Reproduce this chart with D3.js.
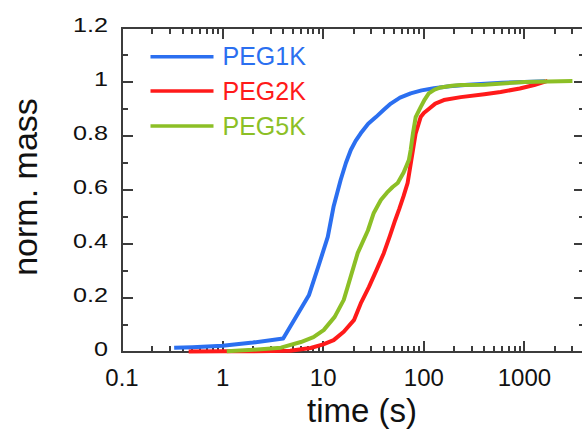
<!DOCTYPE html>
<html>
<head>
<meta charset="utf-8">
<script src="https://cdn.jsdelivr.net/npm/d3@7"></script>
<style>
  body { margin: 0; background: #fff; }
  svg text { font-family: "Liberation Sans", Arial, sans-serif; }
</style>
</head>
<body>
<div id="chart"></div>
<script>
const peg1kTime = [0.33, 0.5, 1, 2, 4, 7.2, 9, 11.1, 12.7, 14.9, 16.8, 18.8, 21, 23.6, 28, 33.4, 40, 47, 58, 74, 95, 126, 180, 275, 600, 1000, 1600];
const peg1kMass = [0.016, 0.018, 0.023, 0.035, 0.05, 0.21, 0.32, 0.426, 0.54, 0.637, 0.7, 0.748, 0.782, 0.81, 0.845, 0.87, 0.897, 0.92, 0.942, 0.958, 0.969, 0.977, 0.984, 0.99, 0.997, 1.0, 1.003];

const peg2kTime = [0.46, 1, 2, 4.7, 7.5, 10, 12.7, 16, 20.2, 23.6, 28.5, 34, 40, 46, 52, 57, 63, 69, 78, 83, 93, 100, 112, 130, 158, 233, 400, 580, 900, 1250, 1700];
const peg2kMass = [0.002, 0.003, 0.003, 0.005, 0.015, 0.028, 0.044, 0.075, 0.118, 0.18, 0.241, 0.305, 0.366, 0.43, 0.489, 0.53, 0.578, 0.626, 0.748, 0.81, 0.87, 0.885, 0.9, 0.92, 0.933, 0.944, 0.955, 0.963, 0.976, 0.989, 1.004];

const peg5kTime = [1.1, 2, 3.8, 6, 8, 10.1, 13, 16, 17.5, 22, 27.8, 31.8, 37.4, 43, 49, 55, 63, 71, 74, 78, 83, 93, 102, 112, 128, 147, 190, 233, 400, 1000, 3000];
const peg5kMass = [0.003, 0.008, 0.016, 0.037, 0.055, 0.081, 0.13, 0.193, 0.241, 0.366, 0.45, 0.515, 0.563, 0.59, 0.611, 0.626, 0.665, 0.711, 0.748, 0.81, 0.87, 0.907, 0.935, 0.958, 0.972, 0.98, 0.986, 0.989, 0.99, 1.0, 1.004];

const seriesNames = ["PEG1K", "PEG2K", "PEG5K"];
const seriesColors = ["#2b6ff0", "#ff1a1a", "#8cbf26"];

const xMajor = [0.1, 1, 10, 100, 1000];
const xLabels = ["0.1", "1", "10", "100", "1000"];
const yMajor = [0, 0.2, 0.4, 0.6, 0.8, 1, 1.2];
const yLabels = ["0", "0.2", "0.4", "0.6", "0.8", "1", "1.2"];
const yMinor = [0.1, 0.3, 0.5, 0.7, 0.9, 1.1];

const width = 582, height = 434;
const mLeft = 122, mRight = 585, mTop = 28, mBottom = 352;

const svg = d3.select("#chart").append("svg")
    .attr("width", width).attr("height", height);

const x = d3.scaleLog().domain([0.1, 4000]).range([mLeft, mRight]);
const y = d3.scaleLinear().domain([0, 1.2]).range([mBottom, mTop]);

// minor ticks 2..9 of each decade
let xMinor = [];
xMajor.forEach(d => {
    for (let k = 2; k <= 9; k++) {
        let v = d * k;
        if (v < 4000) xMinor.push(v);
    }
});

const axisColor = "#3c3c3c";

// inward ticks on all four sides
let xTickData = [];
xMajor.forEach(d => xTickData.push({v: d, len: 11}));
xMinor.forEach(d => xTickData.push({v: d, len: 6}));
let yTickData = [];
yMajor.forEach(d => yTickData.push({v: d, len: 11}));
yMinor.forEach(d => yTickData.push({v: d, len: 6}));

const tickG = svg.append("g")
    .attr("stroke", axisColor)
    .attr("stroke-width", 2);

[mBottom, mTop].forEach(edge => {
    let dir = edge === mBottom ? -1 : 1;
    tickG.append("g").selectAll("line")
        .data(xTickData)
        .join("line")
        .attr("x1", d => Math.round(x(d.v))).attr("x2", d => Math.round(x(d.v)))
        .attr("y1", edge).attr("y2", d => edge + dir * d.len);
});
[mLeft, mRight].forEach(edge => {
    let dir = edge === mLeft ? 1 : -1;
    tickG.append("g").selectAll("line")
        .data(yTickData)
        .join("line")
        .attr("y1", d => Math.round(y(d.v))).attr("y2", d => Math.round(y(d.v)))
        .attr("x1", edge).attr("x2", d => edge + dir * d.len);
});

// frame
svg.append("rect")
    .attr("x", mLeft).attr("y", mTop)
    .attr("width", mRight - mLeft).attr("height", mBottom - mTop)
    .attr("fill", "none").attr("stroke", axisColor).attr("stroke-width", 2);

// tick labels
svg.selectAll(".xlab").data(xMajor).enter().append("text")
    .attr("x", d => x(d)).attr("y", 386)
    .attr("text-anchor", "middle").attr("font-size", 24).attr("fill", "#111")
    .text((d, i) => xLabels[i]);

svg.selectAll(".ylab").data(yMajor).enter().append("text")
    .attr("transform", d => `translate(108,${y(d) + 3.6}) scale(1.2,1)`)
    .attr("text-anchor", "end").attr("font-size", 21).attr("fill", "#111")
    .text((d, i) => yLabels[i]);

// axis titles
svg.append("text")
    .attr("x", 362).attr("y", 422)
    .attr("text-anchor", "middle").attr("font-size", 33).attr("fill", "#111")
    .text("time (s)");

svg.append("text")
    .attr("transform", "translate(37,187) rotate(-90)")
    .attr("text-anchor", "middle").attr("font-size", 34).attr("fill", "#111")
    .text("norm. mass");

// curves
const series = [
    {t: peg1kTime, m: peg1kMass},
    {t: peg2kTime, m: peg2kMass},
    {t: peg5kTime, m: peg5kMass}
];

const line = d3.line()
    .x(d => x(d[0]))
    .y(d => y(d[1]));

series.forEach((s, i) => {
    let pts = s.t.map((t, j) => [t, s.m[j]]);
    svg.append("path")
        .datum(pts)
        .attr("d", line)
        .attr("fill", "none")
        .attr("stroke", seriesColors[i])
        .attr("stroke-width", 4)
        .attr("stroke-linejoin", "round");
});

// legend
const legendY = [56.7, 91, 126];
seriesNames.forEach((n, i) => {
    svg.append("line")
        .attr("x1", 150.5).attr("x2", 213.5)
        .attr("y1", legendY[i]).attr("y2", legendY[i])
        .attr("stroke", seriesColors[i]).attr("stroke-width", 3.5);
    svg.append("text")
        .attr("x", 222.5).attr("y", legendY[i] + 8.5)
        .attr("font-size", 25).attr("fill", seriesColors[i])
        .text(n);
});
</script>
</body>
</html>
